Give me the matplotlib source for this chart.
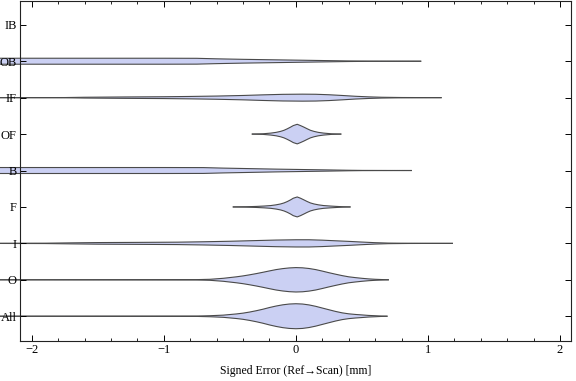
import matplotlib
matplotlib.use('Agg')
import matplotlib.pyplot as plt
from matplotlib.ticker import MultipleLocator

plt.rcParams['font.family'] = ['Liberation Serif', 'DejaVu Serif']
plt.rcParams['font.size'] = 9

# Categories bottom -> top
categories = ['All', 'O', 'I', 'F', 'B', 'OF', 'IF', 'OB', 'IB']
x_ticks = [-2, -1, 0, 1, 2]

# Violin profiles: x (mm) and half-width (category units)
all_x = [-2.5, -0.75, -0.65, -0.55, -0.45, -0.4, -0.35, -0.3, -0.25, -0.2, -0.15, -0.1, -0.05, 0.0,
         0.05, 0.1, 0.15, 0.2, 0.25, 0.3, 0.35, 0.4, 0.45, 0.5, 0.55, 0.6, 0.65, 0.69]
all_w = [0.0, 0.005, 0.014, 0.030, 0.063, 0.085, 0.115, 0.151, 0.192, 0.239, 0.280, 0.313, 0.335, 0.343,
         0.335, 0.310, 0.272, 0.225, 0.178, 0.132, 0.093, 0.066, 0.049, 0.036, 0.022, 0.014, 0.005, 0.0]

o_x = [-2.5, -0.75, -0.65, -0.55, -0.45, -0.4, -0.35, -0.3, -0.25, -0.2, -0.15, -0.1, -0.05, 0.0,
       0.05, 0.1, 0.15, 0.2, 0.25, 0.3, 0.35, 0.4, 0.45, 0.5, 0.55, 0.6, 0.65, 0.70]
o_w = [0.0, 0.005, 0.014, 0.041, 0.082, 0.107, 0.137, 0.170, 0.206, 0.244, 0.280, 0.307, 0.326, 0.335,
       0.329, 0.310, 0.280, 0.239, 0.195, 0.154, 0.115, 0.082, 0.060, 0.041, 0.025, 0.014, 0.007, 0.0]

i_x = [-2.5, -1.9, -1.7, -1.5, -1.2, -0.9, -0.7, -0.5, -0.3, -0.15, 0.0, 0.1, 0.2, 0.3, 0.4, 0.5,
       0.6, 0.7, 0.85, 1.185]
i_w = [0.0, 0.005, 0.014, 0.022, 0.027, 0.033, 0.044, 0.058, 0.077, 0.091, 0.099, 0.099, 0.088, 0.071,
       0.055, 0.036, 0.019, 0.008, 0.003, 0.0]

f_x = [-0.474, -0.38, -0.3, -0.24, -0.19, -0.15, -0.116, -0.09, -0.065, -0.04, -0.02, 0.01,
       0.035, 0.06, 0.086, 0.11, 0.137, 0.17, 0.21, 0.26, 0.31, 0.36, 0.41]
f_w = [0.0, 0.005, 0.014, 0.025, 0.038, 0.058, 0.082, 0.110, 0.148, 0.195, 0.239, 0.274,
       0.239, 0.195, 0.148, 0.110, 0.082, 0.058, 0.038, 0.025, 0.014, 0.005, 0.0]

of_x = [-0.33, -0.25, -0.19, -0.15, -0.116, -0.09, -0.065, -0.04, -0.02, 0.01,
        0.035, 0.06, 0.086, 0.11, 0.137, 0.17, 0.21, 0.27, 0.34]
of_w = [0.0, 0.008, 0.027, 0.047, 0.074, 0.104, 0.145, 0.192, 0.233, 0.269,
        0.233, 0.192, 0.145, 0.104, 0.074, 0.047, 0.027, 0.008, 0.0]

b_x = [-2.5, -1.0, -0.7, -0.55, -0.35, -0.15, 0.05, 0.25, 0.4, 0.5, 0.874]
b_w = [0.082, 0.082, 0.080, 0.066, 0.052, 0.038, 0.027, 0.016, 0.007, 0.003, 0.0]

if_x = [-2.5, -1.75, -1.6, -1.3, -1.0, -0.8, -0.6, -0.4, -0.25, -0.1, 0.05, 0.15, 0.25, 0.35,
        0.45, 0.55, 0.65, 0.8, 1.10]
if_w = [0.0, 0.003, 0.011, 0.019, 0.025, 0.033, 0.044, 0.060, 0.077, 0.091, 0.096, 0.093, 0.080, 0.060,
        0.038, 0.022, 0.011, 0.004, 0.0]

ob_x = [-2.5, -1.0, -0.75, -0.6, -0.4, -0.2, 0.0, 0.2, 0.4, 0.55, 0.945]
ob_w = [0.082, 0.082, 0.080, 0.066, 0.052, 0.041, 0.030, 0.019, 0.008, 0.003, 0.0]

profiles = {
    'All': (all_x, all_w), 'O': (o_x, o_w), 'I': (i_x, i_w), 'F': (f_x, f_w),
    'OF': (of_x, of_w), 'B': (b_x, b_w), 'IF': (if_x, if_w), 'OB': (ob_x, ob_w),
}

fill_color = '#cbd0f3'
edge_color = '#4a4a4a'

fig = plt.figure(figsize=(5.76, 3.81), dpi=100)
ax = fig.add_axes([20 / 576, 40 / 381, 551 / 576, 340.5 / 381])

for pos, cat in enumerate(categories, start=1):
    if cat not in profiles:
        continue
    xs, ws = profiles[cat]
    lower = [pos - w for w in ws]
    upper = [pos + w for w in ws]
    ax.fill_between(xs, lower, upper, facecolor=fill_color, edgecolor='none',
                    clip_on=False, zorder=1)
    ax.plot(xs, upper, color=edge_color, lw=0.8, clip_on=False, zorder=1.5)
    ax.plot(xs, lower, color=edge_color, lw=0.8, clip_on=False, zorder=1.5)

ax.set_xlim(-2.089, 2.083)
ax.set_ylim(0.32, 9.667)
ax.set_yticks(range(1, len(categories) + 1))
ax.set_yticklabels(categories)
ax.set_xticks(x_ticks)
ax.xaxis.set_minor_locator(MultipleLocator(0.2))
ax.tick_params(axis='both', which='major', direction='in', top=True, right=True,
               length=4, width=0.7, pad=2.5, labelsize=9)
ax.tick_params(axis='x', which='minor', direction='in', top=True, length=2.2, width=0.6)
ax.tick_params(axis='y', which='major', pad=2.5)
for s in ax.spines.values():
    s.set_linewidth(0.8)
    s.set_color('#222222')

ax.set_xlabel('Signed Error (Ref\u2192Scan) [mm]', fontsize=8.5, labelpad=6)

fig.savefig('out.png', dpi=100)
